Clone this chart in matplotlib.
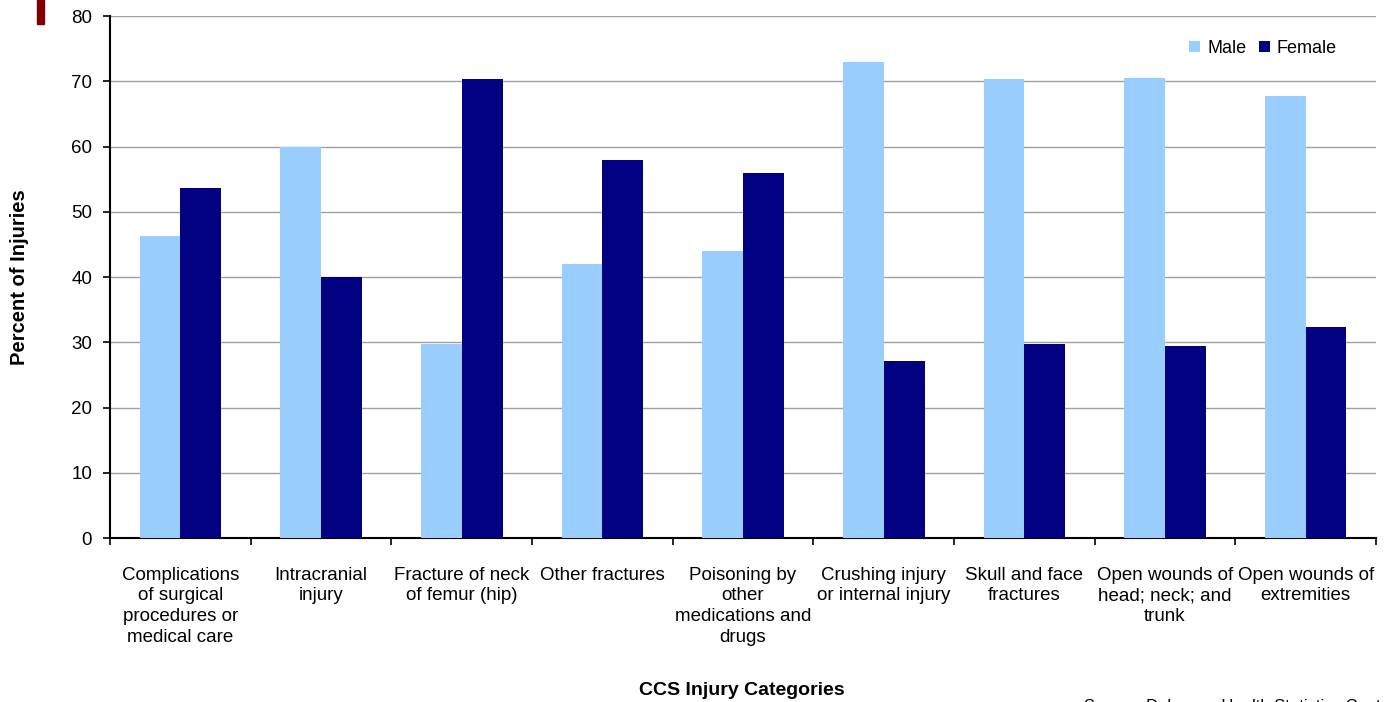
import numpy as np
import matplotlib.pyplot as plt

plt.rcParams['font.family'] = ['Liberation Sans', 'DejaVu Sans']

categories = [
    "Complications\nof surgical\nprocedures or\nmedical care",
    "Intracranial\ninjury",
    "Fracture of neck\nof femur (hip)",
    "Other fractures",
    "Poisoning by\nother\nmedications and\ndrugs",
    "Crushing injury\nor internal injury",
    "Skull and face\nfractures",
    "Open wounds of\nhead; neck; and\ntrunk",
    "Open wounds of\nextremities",
]
male = [46.3, 60.0, 29.7, 42.0, 44.0, 73.0, 70.3, 70.5, 67.8]
female = [53.7, 40.0, 70.3, 58.0, 56.0, 27.2, 29.7, 29.4, 32.3]

fig = plt.figure(figsize=(13.95, 7.02), dpi=100)
ax = fig.add_axes([0.0789, 0.2336, 0.9075, 0.7436])

x = np.arange(len(categories))
w = 0.29
ax.bar(x - w / 2, male, w, color='#99ccff', label='Male', zorder=3)
ax.bar(x + w / 2, female, w, color='#000080', label='Female', zorder=3)

ax.set_xlim(-0.5, len(categories) - 0.5)
ax.set_ylim(0, 80)
ax.set_yticks(range(0, 81, 10))
ax.yaxis.grid(True, color='#a0a0a0', linewidth=1, zorder=0)
ax.tick_params(axis='y', labelsize=13.5, length=5, width=1.2, pad=8)

ax.set_xticks(np.arange(-0.5, len(categories), 1.0))
ax.set_xticklabels([])
ax.tick_params(axis='x', length=5, width=1.2)
for i, c in enumerate(categories):
    ax.text(i, -4.4, c, ha='center', va='top', fontsize=13.5, linespacing=1.28)

for s in ['top', 'right']:
    ax.spines[s].set_visible(False)
ax.spines['left'].set_linewidth(1.5)
ax.spines['bottom'].set_linewidth(1.5)

ax.set_ylabel('Percent of Injuries', fontsize=14.5, fontweight='bold', labelpad=30)
fig.text(0.532, 0.017, 'CCS Injury Categories', ha='center', va='center',
         fontsize=14, fontweight='bold')
fig.text(0.777, -0.006, 'Source: Delaware Health Statistics Center', ha='left',
         va='center', fontsize=12)

ax.legend(loc='upper right', bbox_to_anchor=(0.982, 0.985), ncol=2, frameon=False,
          fontsize=13, handlelength=0.6, handleheight=0.6, columnspacing=0.7,
          handletextpad=0.4)

fig.patches.append(plt.Rectangle((37 / 1395, 1 - 24 / 702), 7 / 1395, 24 / 702,
                                 transform=fig.transFigure, color='#800000'))

fig.savefig('out.png', dpi=100)
